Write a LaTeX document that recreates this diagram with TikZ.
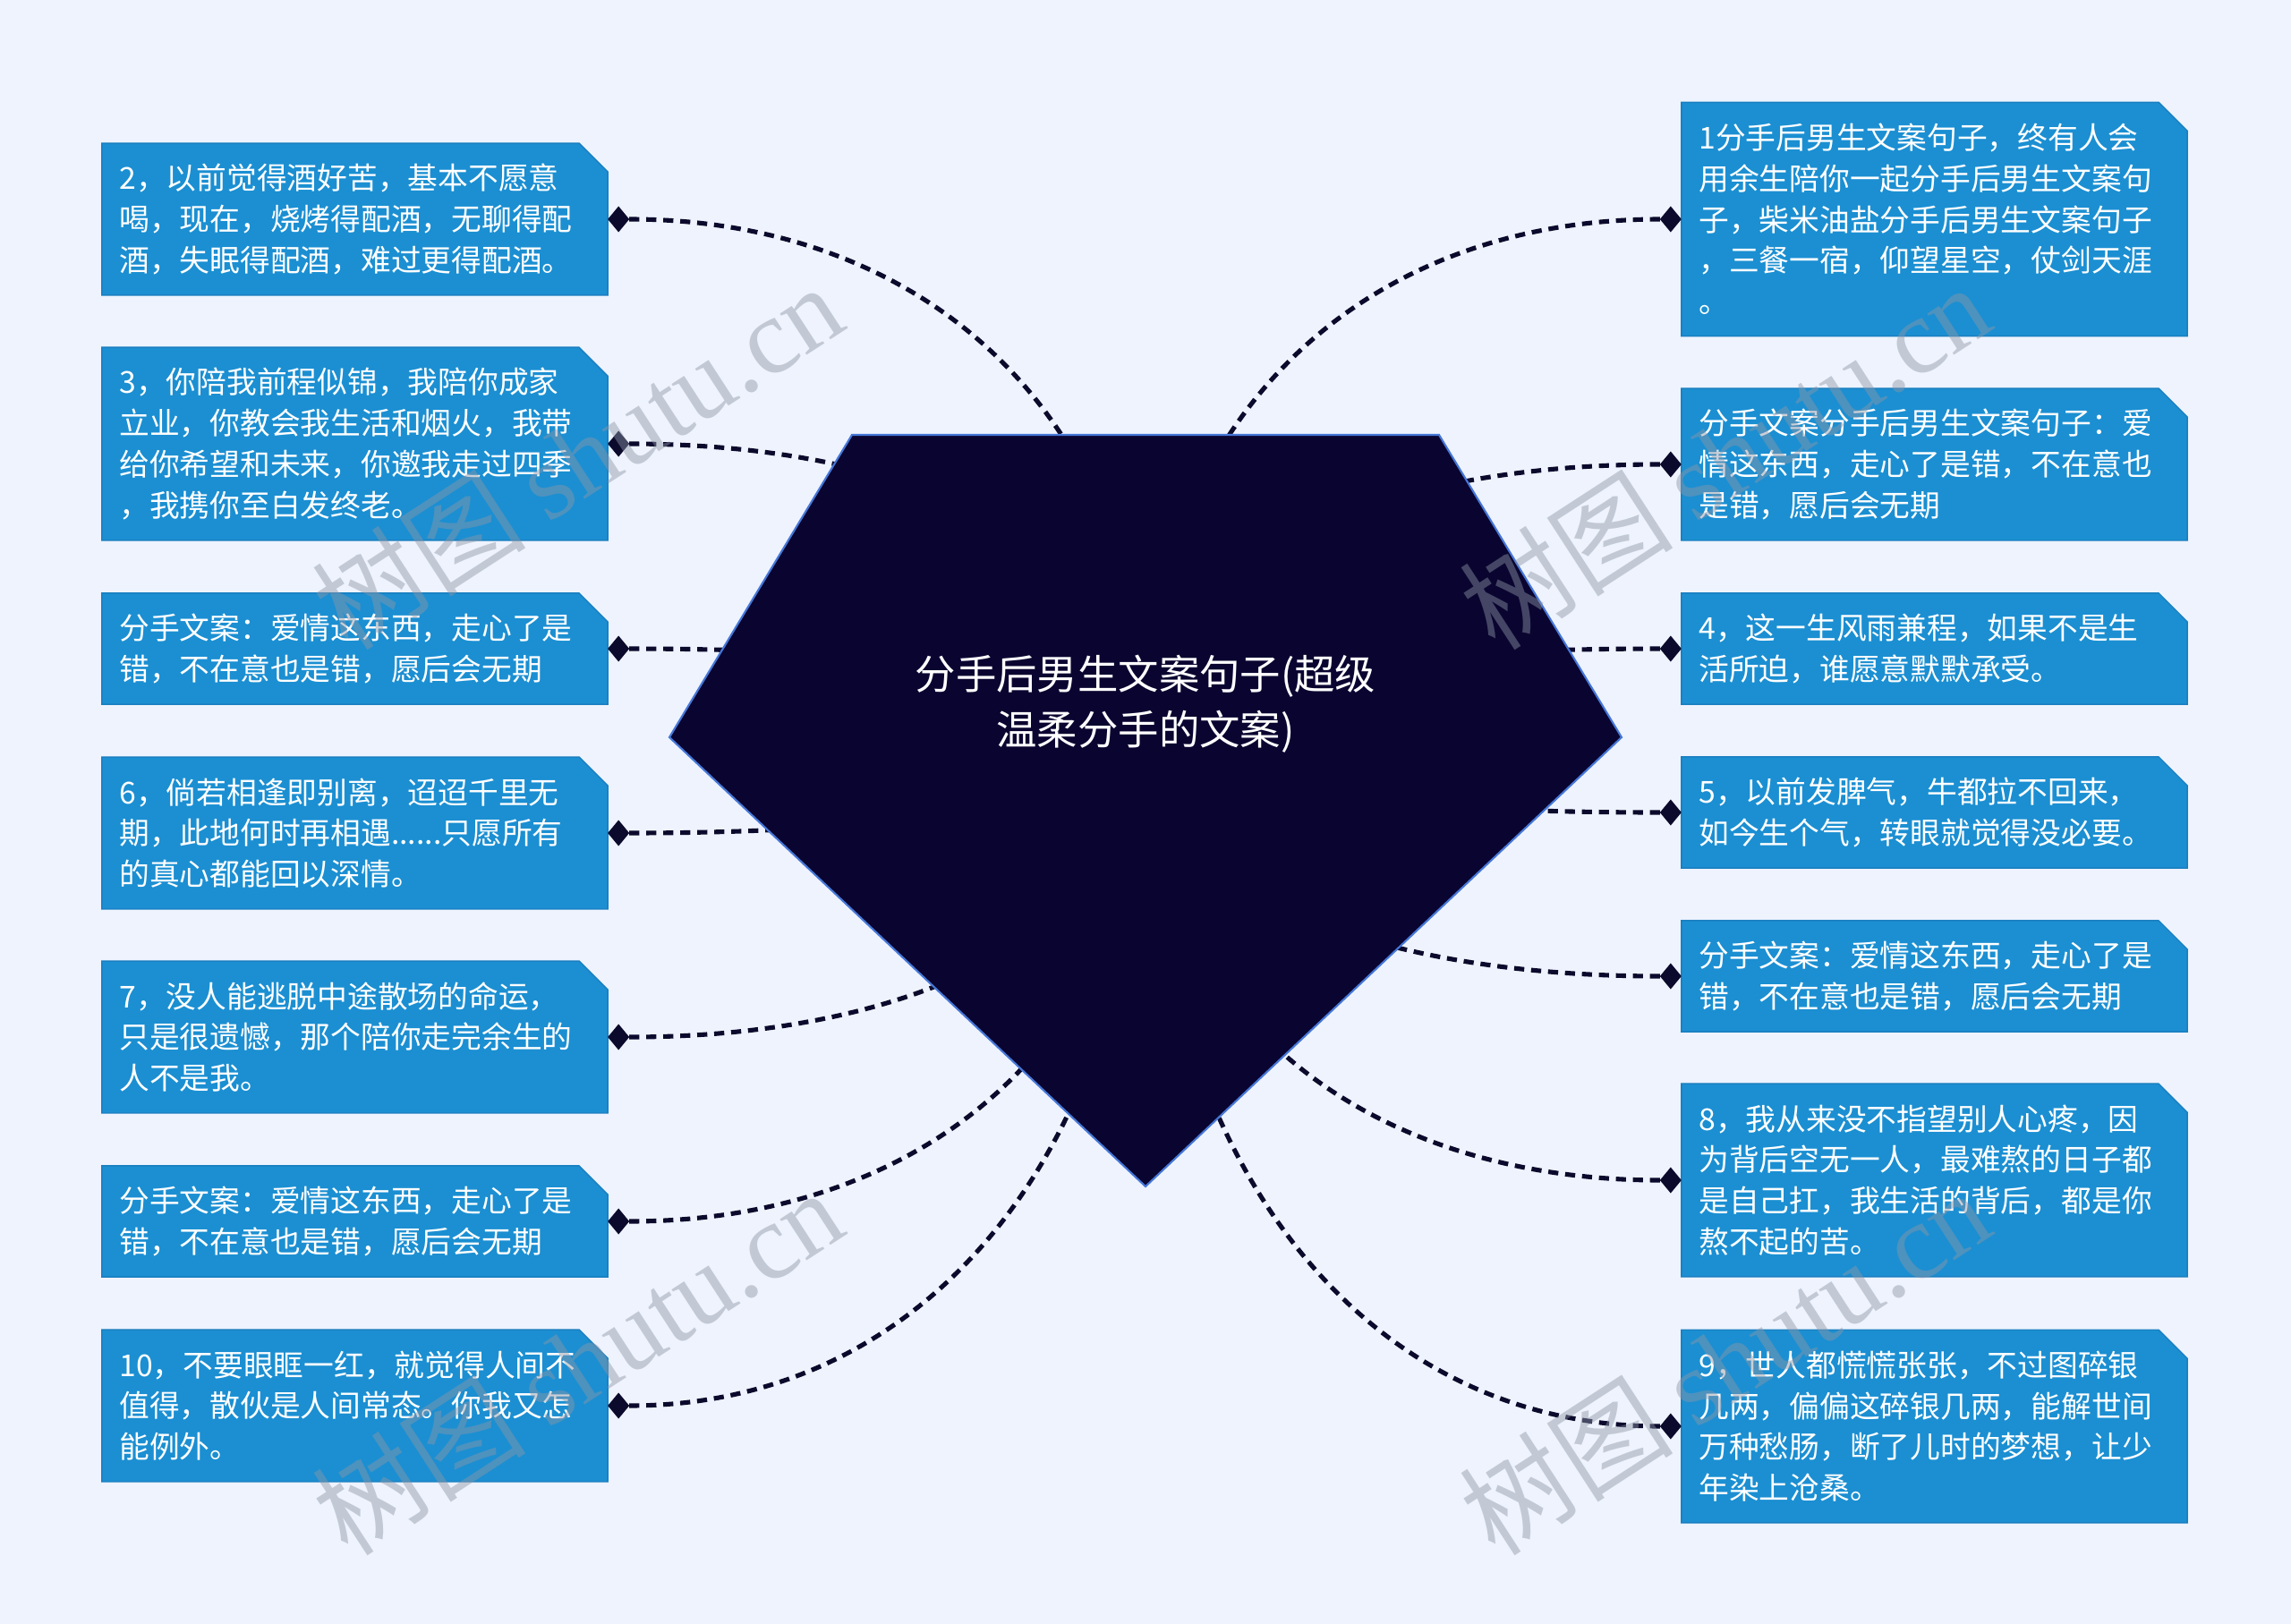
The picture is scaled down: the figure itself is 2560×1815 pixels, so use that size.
\documentclass[tikz,border=0pt]{standalone}
\usepackage{fontspec}
\setmainfont{Noto Sans CJK SC}
\newfontfamily\latinserif{Liberation Serif}
\usetikzlibrary{calc,positioning,shapes.geometric,shapes.misc}

\definecolor{pagebg}{HTML}{EEF3FD}
\definecolor{leafblue}{HTML}{1B8FD2}
\definecolor{leafedge}{HTML}{1A7FC0}
\definecolor{hubnavy}{HTML}{0A0530}
\definecolor{hubedge}{HTML}{4677D8}
\definecolor{linknavy}{HTML}{0C0A2C}
\definecolor{stampgrey}{HTML}{8E96A6}

\tikzset{
  leaf/.style={chamfered rectangle, chamfered rectangle corners=north east,
    chamfered rectangle xsep=0.16cm, chamfered rectangle ysep=0.16cm,
    fill=leafblue, draw=leafedge, line width=0.4pt, text=white,
    font=\fontsize{9.6}{13}\selectfont, align=left, text width=5.26cm,
    inner xsep=0.035cm, inner ysep=0pt, outer sep=0pt,
    minimum height={#1*0.457cm+0.327cm}},
  stud/.style={diamond, fill=linknavy, inner sep=0pt, minimum width=0.24cm,
    minimum height=0.29cm, outer sep=0pt},
  link/.style={draw=linknavy, line width=1.45pt, dash pattern=on 3.2pt off 2.2pt},
  stamp/.style={text=stampgrey, opacity=0.45, rotate=33,
    font=\fontsize{34}{34}\selectfont}
}

\begin{document}
\begin{tikzpicture}[x=0.01cm, y=-0.01cm,
  hubshape/.style={fill=hubnavy, draw=hubedge, line width=0.6pt},
  hubtext/.style={text=white, align=center, font=\fontsize{12.9}{17.6}\selectfont}]

  \fill[pagebg] (0,0) rectangle (2560,1815);
  \useasboundingbox (0,0) rectangle (2560,1815);

  \coordinate (hub) at (1280,824);

  % left column
  \node[leaf=3] (l1) at (396.5,245) {2，以前觉得酒好苦，基本不愿意\\喝，现在，烧烤得配酒，无聊得配\\酒，失眠得配酒，难过更得配酒。};
  \node[leaf=4] (l2) at (396.5,496) {3，你陪我前程似锦，我陪你成家\\立业，你教会我生活和烟火，我带\\给你希望和未来，你邀我走过四季\\，我携你至白发终老。};
  \node[leaf=2] (l3) at (396.5,725) {分手文案：爱情这东西，走心了是\\错，不在意也是错，愿后会无期};
  \node[leaf=3] (l4) at (396.5,931) {6，倘若相逢即别离，迢迢千里无\\期，此地何时再相遇......只愿所有\\的真心都能回以深情。};
  \node[leaf=3] (l5) at (396.5,1159) {7，没人能逃脱中途散场的命运，\\只是很遗憾，那个陪你走完余生的\\人不是我。};
  \node[leaf=2] (l6) at (396.5,1365) {分手文案：爱情这东西，走心了是\\错，不在意也是错，愿后会无期};
  \node[leaf=3] (l7) at (396.5,1571) {10，不要眼眶一红，就觉得人间不\\值得，散伙是人间常态。你我又怎\\能例外。};

  % right column
  \node[leaf=5] (r1) at (2161.5,245) {1分手后男生文案句子，终有人会\\用余生陪你一起分手后男生文案句\\子，柴米油盐分手后男生文案句子\\，三餐一宿，仰望星空，仗剑天涯\\。};
  \node[leaf=3] (r2) at (2161.5,519) {分手文案分手后男生文案句子：爱\\情这东西，走心了是错，不在意也\\是错，愿后会无期};
  \node[leaf=2] (r3) at (2161.5,725) {4，这一生风雨兼程，如果不是生\\活所迫，谁愿意默默承受。};
  \node[leaf=2] (r4) at (2161.5,908) {5，以前发脾气，牛都拉不回来，\\如今生个气，转眼就觉得没必要。};
  \node[leaf=2] (r5) at (2161.5,1091) {分手文案：爱情这东西，走心了是\\错，不在意也是错，愿后会无期};
  \node[leaf=4] (r6) at (2161.5,1319) {8，我从来没不指望别人心疼，因\\为背后空无一人，最难熬的日子都\\是自己扛，我生活的背后，都是你\\熬不起的苦。};
  \node[leaf=4] (r7) at (2161.5,1594) {9，世人都慌慌张张，不过图碎银\\几两，偏偏这碎银几两，能解世间\\万种愁肠，断了儿时的梦想，让少\\年染上沧桑。};

  \node[stud, right=0pt of l1] (sl1) {};
  \node[stud, right=0pt of l2] (sl2) {};
  \node[stud, right=0pt of l3] (sl3) {};
  \node[stud, right=0pt of l4] (sl4) {};
  \node[stud, right=0pt of l5] (sl5) {};
  \node[stud, right=0pt of l6] (sl6) {};
  \node[stud, right=0pt of l7] (sl7) {};
  \node[stud, left=0pt of r1] (sr1) {};
  \node[stud, left=0pt of r2] (sr2) {};
  \node[stud, left=0pt of r3] (sr3) {};
  \node[stud, left=0pt of r4] (sr4) {};
  \node[stud, left=0pt of r5] (sr5) {};
  \node[stud, left=0pt of r6] (sr6) {};
  \node[stud, left=0pt of r7] (sr7) {};

  \draw[link] (sl1.east) .. controls ($(sl1)!0.6!(hub |- sl1)$) and ($(hub)!0.6!(hub |- sl1)$) .. (hub);
  \draw[link] (sl2.east) .. controls ($(sl2)!0.6!(hub |- sl2)$) and ($(hub)!0.6!(hub |- sl2)$) .. (hub);
  \draw[link] (sl3.east) .. controls ($(sl3)!0.6!(hub |- sl3)$) and ($(hub)!0.6!(hub |- sl3)$) .. (hub);
  \draw[link] (sl4.east) .. controls ($(sl4)!0.6!(hub |- sl4)$) and ($(hub)!0.6!(hub |- sl4)$) .. (hub);
  \draw[link] (sl5.east) .. controls ($(sl5)!0.6!(hub |- sl5)$) and ($(hub)!0.6!(hub |- sl5)$) .. (hub);
  \draw[link] (sl6.east) .. controls ($(sl6)!0.6!(hub |- sl6)$) and ($(hub)!0.6!(hub |- sl6)$) .. (hub);
  \draw[link] (sl7.east) .. controls ($(sl7)!0.6!(hub |- sl7)$) and ($(hub)!0.6!(hub |- sl7)$) .. (hub);
  \draw[link] (sr1.west) .. controls ($(sr1)!0.6!(hub |- sr1)$) and ($(hub)!0.6!(hub |- sr1)$) .. (hub);
  \draw[link] (sr2.west) .. controls ($(sr2)!0.6!(hub |- sr2)$) and ($(hub)!0.6!(hub |- sr2)$) .. (hub);
  \draw[link] (sr3.west) .. controls ($(sr3)!0.6!(hub |- sr3)$) and ($(hub)!0.6!(hub |- sr3)$) .. (hub);
  \draw[link] (sr4.west) .. controls ($(sr4)!0.6!(hub |- sr4)$) and ($(hub)!0.6!(hub |- sr4)$) .. (hub);
  \draw[link] (sr5.west) .. controls ($(sr5)!0.6!(hub |- sr5)$) and ($(hub)!0.6!(hub |- sr5)$) .. (hub);
  \draw[link] (sr6.west) .. controls ($(sr6)!0.6!(hub |- sr6)$) and ($(hub)!0.6!(hub |- sr6)$) .. (hub);
  \draw[link] (sr7.west) .. controls ($(sr7)!0.6!(hub |- sr7)$) and ($(hub)!0.6!(hub |- sr7)$) .. (hub);

  % centre pentagon
  \filldraw[hubshape] (952,486) -- (1608,486) -- (1812,824) -- (1280,1326) -- (748,824) -- cycle;
  \node[hubtext] (title) at (1280,787) {分手后男生文案句子(超级\\温柔分手的文案)};

  \node[stamp] (wm1) at (645,510) {树图 {\latinserif shutu.cn}};
  \node[stamp] (wm2) at (1927,510) {树图 {\latinserif shutu.cn}};
  \node[stamp] (wm3) at (645,1522) {树图 {\latinserif shutu.cn}};
  \node[stamp] (wm4) at (1927,1522) {树图 {\latinserif shutu.cn}};

\end{tikzpicture}
\end{document}
